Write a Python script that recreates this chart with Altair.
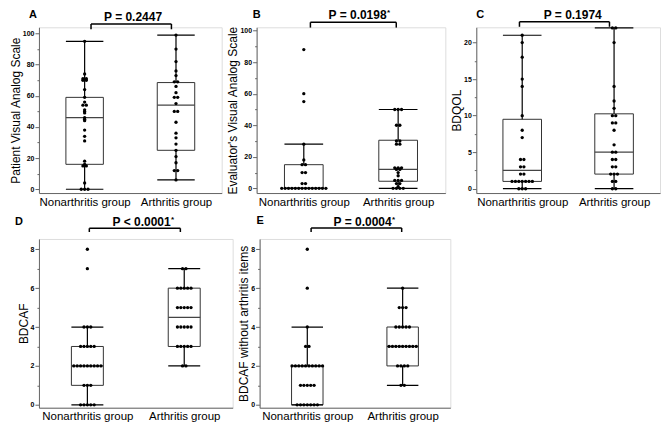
import altair as alt
import pandas as pd

FONT = "Liberation Sans"
AXIS_GREY = "#666666"

# ---------------- data ----------------
# Panel A: Patient Visual Analog Scale
a_non = [95, 74, 71, 71, 70, 70, 64, 59, 56, 54, 54, 51, 50, 49, 46, 45, 44, 38, 34, 31, 18, 16, 15, 15, 4, 0, 0, 0]
a_art = [99, 90, 82, 76, 73, 69, 69, 66, 62, 59, 59, 55, 50, 50, 43, 36, 33, 29, 25, 21, 17, 12, 12, 6]
# box statistics: whisker low, Q1, median, Q3, whisker high
a_box_non = [0, 16, 46, 59, 95]
a_box_art = [6, 25, 54, 68.5, 99]

# Panel B: Evaluator's Visual Analog Scale
b_non = [88, 60, 55, 28, 18, 15, 15, 10, 10, 3, 3] + [0] * 14
b_art = [50, 50, 50, 40, 40, 30, 30, 28, 28, 13, 13, 13, 12, 12, 10, 8, 5, 5, 5, 3, 3, 1, 0, 0, 0, 0]
b_box_non = [0, 0, 0, 15, 28]
b_box_art = [0, 4.5, 12, 30.5, 50]

# Panel C: BDQOL
c_non = [21, 20, 18, 15, 14, 10, 8, 7, 4, 4, 3, 3, 2, 2, 1, 1, 1, 1, 1, 1, 1, 0, 0, 0]
c_art = [22, 22, 20, 14, 12, 11, 10, 10, 9, 9, 8, 6, 5, 5, 4, 4, 3, 3, 2, 2, 2, 1, 1, 0, 0]
c_box_non = [0, 1, 2.5, 9.5, 21]
c_box_art = [0, 2, 5, 10.25, 22]

# Panel D: BDCAF
d_non = [8, 7, 4, 4, 4, 3, 3, 3, 3, 3] + [2] * 9 + [1, 1, 1] + [0] * 5
d_art = [7, 7] + [6] * 5 + [5] * 5 + [4] * 5 + [3] * 5 + [2, 2]
d_box_non = [0, 1, 2, 3, 4]
d_box_art = [2, 3, 4.5, 6, 7]

# Panel E: BDCAF without arthritis items
e_non = [8, 6, 4, 3, 3] + [2] * 10 + [1] * 5 + [0] * 7
e_art = [6, 5, 5, 5] + [4] * 5 + [3] * 9 + [2] * 4 + [1, 1]
e_box_non = [0, 0, 2, 2, 4]
e_box_art = [1, 2, 3, 4, 6]

groups = ["Nonarthritis group", "Arthritis group"]


def panel(non, art, box_non, box_art, ytitle, ymajor, yminor, ydom,
          width, height, letter, ptext, star, g):
    pts = pd.DataFrame({"gi": [0] * len(non) + [1] * len(art), "value": non + art})
    stats = pd.DataFrame([[0] + box_non, [1] + box_art],
                         columns=["gi", "lo", "q1", "med", "q3", "hi"])
    hw = g["hw"]
    step = 3.4 / (width / 2.0)

    xs = alt.Scale(domain=[-0.5, 1.5], nice=False, zero=False)
    ys = alt.Scale(domain=ydom, nice=False, zero=False)
    label_expr = f"datum.value == 0 ? '{groups[0]}' : '{groups[1]}'"
    xaxis = alt.Axis(values=[0, 1], labelExpr=label_expr, ticks=False,
                     labelFont=FONT, labelFontSize=11.5, labelColor="black",
                     labelPadding=3, labelOverlap=False, labelFlush=False,
                     domainColor=AXIS_GREY, domainWidth=1, grid=False, title=None,
                     orient="bottom")
    yaxis = alt.Axis(values=ymajor, title=ytitle, titleFont=FONT, titleFontSize=12,
                     titleFontWeight="normal", titleColor="black", titlePadding=0,
                     labelFont=FONT, labelFontSize=7, labelFontWeight="bold",
                     labelColor="black", labelPadding=1, tickSize=4,
                     tickColor=AXIS_GREY, domainColor=AXIS_GREY, domainWidth=1,
                     grid=False, minExtent=0)
    yminor_axis = alt.Axis(values=yminor, labels=False, tickSize=2, tickColor=AXIS_GREY,
                           domain=False, grid=False, title=None, orient="left",
                           minExtent=0)

    base = alt.Chart(stats).transform_calculate(
        xl=f"datum.gi - {hw}", xr=f"datum.gi + {hw}")
    box = base.mark_rect(fillOpacity=0, stroke="#333333", strokeWidth=1).encode(
        x=alt.X("xl:Q", scale=xs, axis=xaxis), x2="xr:Q",
        y=alt.Y("q1:Q", scale=ys, axis=yaxis), y2="q3:Q")
    wh_up = base.mark_rule(color="black", strokeWidth=1.2).encode(
        x=alt.X("gi:Q", axis=None), y=alt.Y("q3:Q", axis=yminor_axis), y2="hi:Q")
    wh_lo = base.mark_rule(color="black", strokeWidth=1.2).encode(
        x=alt.X("gi:Q", axis=None), y=alt.Y("lo:Q", axis=None), y2="q1:Q")
    cap_hi = base.mark_rule(color="black", strokeWidth=1.2).encode(
        x=alt.X("xl:Q", axis=None), x2="xr:Q", y=alt.Y("hi:Q", axis=None))
    cap_lo = base.mark_rule(color="black", strokeWidth=1.2).encode(
        x=alt.X("xl:Q", axis=None), x2="xr:Q", y=alt.Y("lo:Q", axis=None))
    med = base.mark_rule(color="#444444", strokeWidth=1.2).encode(
        x=alt.X("xl:Q", axis=None), x2="xr:Q", y=alt.Y("med:Q", axis=None))

    dots = (alt.Chart(pts)
            .transform_joinaggregate(cnt="count()", groupby=["gi", "value"])
            .transform_window(rank="row_number()", groupby=["gi", "value"])
            .transform_calculate(xp=f"datum.gi + (datum.rank - (datum.cnt + 1) / 2) * {step}")
            .mark_circle(size=11, color="black", opacity=1)
            .encode(x=alt.X("xp:Q", axis=None), y=alt.Y("value:Q", axis=None)))

    one = alt.Chart(pd.DataFrame({"k": [0]}))
    br = one.mark_rule(color="black", strokeWidth=1.5).encode(
        x=alt.XDatum(g["bl"], axis=None), x2=alt.X2Datum(g["br"]), y=alt.value(g["by"]))
    leg_l = one.mark_rule(color="black", strokeWidth=1.5).encode(
        x=alt.XDatum(g["bl"], axis=None), y=alt.value(g["by"]), y2=alt.value(g["by"] + g["leg"]))
    leg_r = one.mark_rule(color="black", strokeWidth=1.5).encode(
        x=alt.XDatum(g["br"], axis=None), y=alt.value(g["by"]), y2=alt.value(g["by"] + g["leg"]))
    ptxt = one.mark_text(text=ptext, font=FONT, fontSize=12, fontWeight="bold",
                         align="center", baseline="alphabetic").encode(
        x=alt.XDatum(g["px"], axis=None), y=alt.value(g["py"]))
    lett = one.mark_text(text=letter, font=FONT, fontSize=11, fontWeight="bold",
                         align="left", baseline="alphabetic").encode(
        x=alt.value(g["lx"]), y=alt.value(g["ly"]))
    layers = [box, wh_up, wh_lo, cap_hi, cap_lo, med, dots, br, leg_l, leg_r, ptxt, lett]
    if star:
        st = one.mark_text(text="*", font=FONT, fontSize=8, fontWeight="bold",
                           align="left", baseline="alphabetic", dx=29.5).encode(
            x=alt.XDatum(g["px"], axis=None), y=alt.value(g["py"] - 4))
        layers.append(st)
    return (alt.layer(*layers)
            .resolve_axis(x="independent", y="independent")
            .properties(width=width, height=height))


pA = panel(a_non, a_art, a_box_non, a_box_art, "Patient Visual Analog Scale",
           [0, 20, 40, 60, 80, 100], [10, 30, 50, 70, 90], [-2.44, 104.0], 183, 166,
           "A", "P = 0.2447", False,
           dict(hw=0.205, bl=0.07, br=0.95, by=-3.3, leg=5.3, px=0.53, py=-6.7, lx=-10, ly=-9))
pB = panel(b_non, b_art, b_box_non, b_box_art, "Evaluator's Visual Analog Scale",
           [0, 20, 40, 60, 80, 100], [10, 30, 50, 70, 90], [-2.97, 102.1], 189, 166,
           "B", "P = 0.0198", True,
           dict(hw=0.205, bl=0.07, br=0.98, by=-5, leg=5.3, px=0.57, py=-8, lx=-4, ly=-9))
pC = panel(c_non, c_art, c_box_non, c_box_art, "BDQOL",
           [0, 5, 10, 15, 20], [2.5, 7.5, 12.5, 17.5], [-0.59, 22.09], 184, 166,
           "C", "P = 0.1974", False,
           dict(hw=0.21, bl=-0.03, br=0.95, by=-5.5, leg=5, px=0.55, py=-8, lx=0, ly=-9))
pD = panel(d_non, d_art, d_box_non, d_box_art, "BDCAF",
           [0, 2, 4, 6, 8], [1, 3, 5, 7], [-0.15, 8.53], 194, 169,
           "D", "P < 0.0001", True,
           dict(hw=0.165, bl=0.02, br=0.96, by=-10.7, leg=3.7, px=0.56, py=-12.5, lx=-24, ly=-14))
pE = panel(e_non, e_art, e_box_non, e_box_art, "BDCAF without arthritis items",
           [0, 2, 4, 6, 8], [1, 3, 5, 7], [-0.15, 8.53], 191, 169,
           "E", "P = 0.0004", True,
           dict(hw=0.165, bl=0.04, br=0.99, by=-11, leg=4, px=0.58, py=-12.5, lx=-3, ly=-15))

row1 = alt.hconcat(pA, pB, pC, spacing=3)
row2 = alt.hconcat(pD, pE, spacing=3)
chart = (alt.vconcat(row1, row2, spacing=6)
         .properties(padding=0)
         .configure_view(stroke=None)
         .configure(background="white"))

chart.save("out.html", embed_options={"renderer": "svg", "actions": False})
